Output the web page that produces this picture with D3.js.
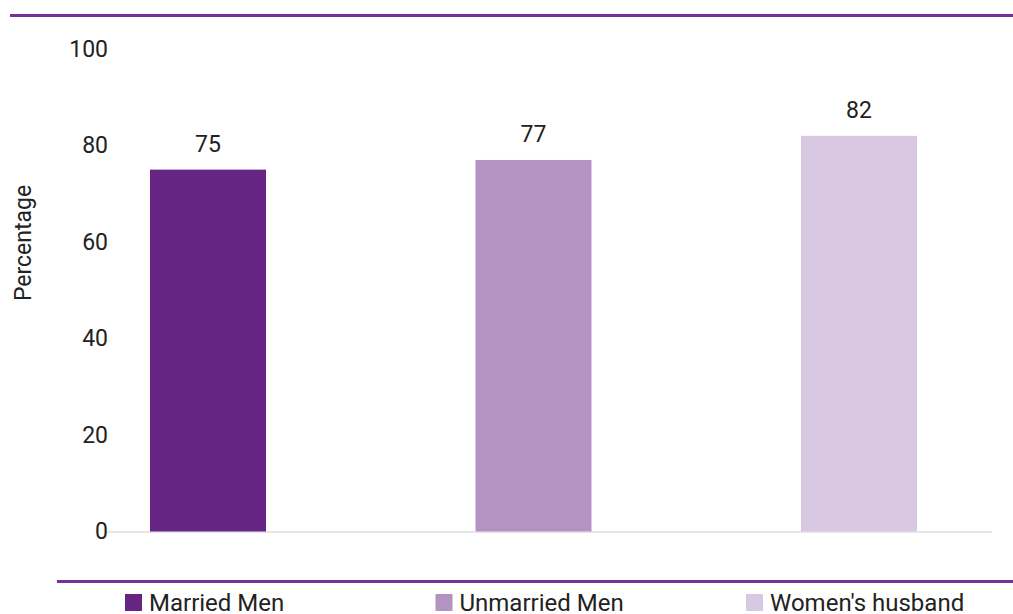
<!DOCTYPE html>
<html>
<head>
<meta charset="utf-8">
<script src="https://cdn.jsdelivr.net/npm/d3@7"></script>
<style>
  body { margin: 0; background: #fff; }
  svg { display: block; font-family: Roboto, "Noto Sans", sans-serif; }
</style>
</head>
<body>
<div id="chart"></div>
<script>
const categories = ["Married Men", "Unmarried Men", "Women's husband"]
const values = [75, 77, 82]
const colors = ["#662582", "#b493c3", "#d9c8e1"]
const yTicks = [0, 20, 40, 60, 80, 100]

const width = 1013, height = 614
const svg = d3.select('#chart').append("svg")
    .attr("width", width)
    .attr("height", height)

// purple rules top and bottom
svg.append("rect").attr("x", 10).attr("y", 14).attr("width", width - 10).attr("height", 3).attr("fill", "#7a2f95")
svg.append("rect").attr("x", 57).attr("y", 580).attr("width", width - 57).attr("height", 3).attr("fill", "#7a2f95")

const y = d3.scaleLinear().domain([0, 100]).range([531.5, 49])
const x = d3.scalePoint().domain(categories).range([208, 859])
const barWidth = 116

// baseline
svg.append("line")
    .attr("x1", 106).attr("x2", 992)
    .attr("y1", y(0) + 0.5).attr("y2", y(0) + 0.5)
    .attr("stroke", "#e6e6e6").attr("stroke-width", 2)

// y axis labels
const yAxis = d3.axisLeft(y).tickValues(yTicks).tickSize(0).tickPadding(0)
svg.append("g")
    .attr("transform", "translate(108,0)")
    .call(yAxis)
    .call(g => g.select(".domain").remove())
    .selectAll("text")
    .attr("font-size", 23)
    .attr("font-family", "Roboto, sans-serif")
    .attr("fill", "#222")

svg.append("text")
    .attr("transform", `translate(31,243) rotate(-90)`)
    .attr("text-anchor", "middle")
    .attr("font-size", 23)
    .attr("fill", "#222")
    .text("Percentage")

// bars
svg.selectAll("rect.bar")
    .data(values)
    .join("rect").attr("class", "bar")
    .attr("x", (d, i) => x(categories[i]) - barWidth / 2)
    .attr("y", d => y(d))
    .attr("width", barWidth)
    .attr("height", d => y(0) - y(d))
    .attr("fill", (d, i) => colors[i])

svg.selectAll("text.val")
    .data(values)
    .join("text").attr("class", "val")
    .attr("x", (d, i) => x(categories[i]))
    .attr("y", d => y(d) - 18)
    .attr("text-anchor", "middle")
    .attr("font-size", 23)
    .attr("fill", "#222")
    .text(d => d)

// legend
const lx = d3.scalePoint().domain(categories).range([125, 746])
const legend = svg.selectAll("g.legend")
    .data(categories)
    .join("g").attr("class", "legend")
    .attr("transform", d => `translate(${lx(d)},594)`)
legend.append("rect")
    .attr("width", 17).attr("height", 17)
    .attr("fill", (d, i) => colors[i])
legend.append("text")
    .attr("x", 24).attr("y", 17)
    .attr("font-size", 24)
    .attr("fill", "#222")
    .text(d => d)
</script>
</body>
</html>
